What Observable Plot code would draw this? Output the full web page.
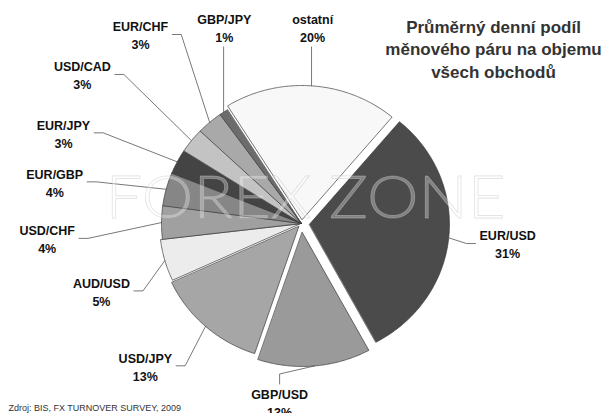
<!DOCTYPE html>
<html><head><meta charset="utf-8">
<script src="https://cdn.jsdelivr.net/npm/d3@7"></script>
<script src="https://cdn.jsdelivr.net/npm/@observablehq/plot@0.6"></script>
<style>
html,body{margin:0;padding:0;background:#fff}
#chart{width:604px;height:413px;overflow:hidden}
</style>
</head><body><div id="chart"></div>
<script>
// ---- data ----
const pairs  = ["EUR/USD","GBP/USD","USD/JPY","AUD/USD","USD/CHF","EUR/GBP","EUR/JPY","USD/CAD","EUR/CHF","GBP/JPY","ostatní"];
const shares = [31,13,13,5,4,4,3,3,3,1,20];
const titleLines = ["Průměrný denní podíl","měnového páru na objemu","všech obchodů"];
const sourceNote = "Zdroj: BIS, FX TURNOVER SURVEY, 2009";
const watermark = "FOREX ZONE";

// ---- styles / layout ----
const sliceColors = ["#4b4b4b","#9a9a9a","#a6a6a6","#ececec","#a0a0a0","#868686","#444444","#c3c3c3","#a9a9a9","#6c6c6c","#f8f8f8"];
const explodePx = {"EUR/USD":8,"GBP/USD":9,"USD/JPY":4,"AUD/USD":2,"ostatní":4};
// label placement: [angle shift from slice middle (deg), distance in radii]
const labelPlacement = {
  "EUR/USD":[0,1.48], "GBP/USD":[11.7,1.34], "USD/JPY":[4.6,1.54], "AUD/USD":[-3.6,1.515],
  "USD/CHF":[-3.9,1.82], "EUR/GBP":[-4.8,1.79], "EUR/JPY":[-5.7,1.83], "USD/CAD":[-2.8,1.92],
  "EUR/CHF":[1.8,1.82], "GBP/JPY":[13.2,1.566], "ostatní":[-0.9,1.468]
};
const W = 604, H = 413, cx = 301, cy = 223, rx = 140, ry = 134, startDeg = 40;
const FONT = "'Liberation Sans', Arial, sans-serif";
const labelSize = 12.5, labelLH = 1.44;

const data = pairs.map((name, i) => ({name, share: shares[i]}));
const rad = Math.PI / 180;
const arcs = d3.pie().sort(null).value(d => d.share)
  .startAngle(startDeg * rad).endAngle((startDeg + 360) * rad)(data);

const ctx = document.createElement("canvas").getContext("2d");
ctx.font = `bold ${labelSize}px ${FONT}`;

const slicePts = [], leaderPts = [], labels = [];
for (const a of arcs) {
  const name = a.data.name;
  const mid = (a.startAngle + a.endAngle) / 2;
  const e = explodePx[name] || 0;
  const ox = e / rx * Math.sin(mid), oy = -e / ry * Math.cos(mid);
  slicePts.push({name, x: ox, y: oy});
  const n = Math.max(2, Math.ceil((a.endAngle - a.startAngle) / (0.5 * rad)));
  for (let k = 0; k <= n; k++) {
    const t = a.startAngle + (a.endAngle - a.startAngle) * k / n;
    slicePts.push({name, x: ox + Math.sin(t), y: oy - Math.cos(t)});
  }
  // label
  const [dA, r] = labelPlacement[name];
  const la = mid + dA * rad;
  const L = {x: r * Math.sin(la), y: -r * Math.cos(la)};
  const text = `${name}\n${a.data.share}%`;
  labels.push({name, text, x: L.x, y: L.y});
  // leader
  const E = {x: ox + Math.sin(mid), y: oy - Math.cos(mid)};
  const wPx = Math.max(ctx.measureText(name).width, ctx.measureText(a.data.share + "%").width);
  const halfW = wPx / 2, halfH = labelSize * labelLH / 2 + labelSize * 0.55;
  const c = Math.cos(la);
  if (Math.abs(c) > 0.9) {
    const dxPx = Math.max(-5, Math.min(5, (E.x - L.x) * rx));
    const xs = L.x + dxPx / rx;
    if (c > 0) { // label above slice
      const y0 = L.y + (halfH + 4) / ry;
      leaderPts.push({name, x: xs, y: y0}, {name, ...E});
    } else { // label below slice
      const y0 = L.y - (halfH + 2) / ry;
      leaderPts.push({name, x: L.x, y: y0}, {name, x: L.x, y: y0 - 10 / ry}, {name, ...E});
    }
  } else {
    const s = Math.sign(E.x - L.x);
    const x0 = L.x + s * (halfW + 4) / rx, x1 = L.x + s * (halfW + 13) / rx;
    leaderPts.push({name, x: x0, y: L.y}, {name, x: x1, y: L.y}, {name, ...E});
  }
}

const chart = Plot.plot({
  width: W, height: H, margin: 0,
  style: {fontFamily: FONT, background: "#fff", overflow: "hidden"},
  x: {domain: [-cx / rx, (W - cx) / rx], range: [0, W], axis: null},
  y: {domain: [-cy / ry, (H - cy) / ry], range: [0, H], axis: null},
  color: {domain: pairs, range: sliceColors},
  marks: [
    Plot.line(slicePts, {x: "x", y: "y", z: "name", fill: "name", stroke: "#3a3a3a", strokeWidth: 0.7, curve: "linear-closed"}),
    Plot.line(leaderPts, {x: "x", y: "y", z: "name", stroke: "#555", strokeWidth: 0.8}),
    Plot.text(labels, {x: "x", y: "y", text: "text", lineAnchor: "middle", lineHeight: labelLH,
      fontSize: labelSize, fontWeight: "bold", fill: "#111"}),
    Plot.text([watermark], {text: d => d, frameAnchor: "middle", dx: 3, dy: -8, fontSize: 60,
      fontFamily: "Lato, 'Open Sans', sans-serif", fontWeight: 300, fill: "#fff", fillOpacity: 0.3,
      stroke: "#b8b8b8", strokeOpacity: 0.45, strokeWidth: 0.8, className: "wm"}),
    Plot.text([titleLines.join("\n")], {text: d => d, frameAnchor: "top-right", dx: -111, dy: 16,
      textAnchor: "middle", lineAnchor: "top", lineHeight: 1.33, fontSize: 17, fontWeight: "bold", fill: "#333"}),
    Plot.text([sourceNote], {text: d => d, frameAnchor: "bottom-left", dx: 8, dy: -5,
      textAnchor: "start", lineAnchor: "middle", fontSize: 9, fill: "#333"})
  ]
});
document.getElementById("chart").appendChild(chart);
d3.select(chart).selectAll("g.wm text").attr("textLength", 400).attr("lengthAdjust", "spacingAndGlyphs");
</script>
</body></html>
